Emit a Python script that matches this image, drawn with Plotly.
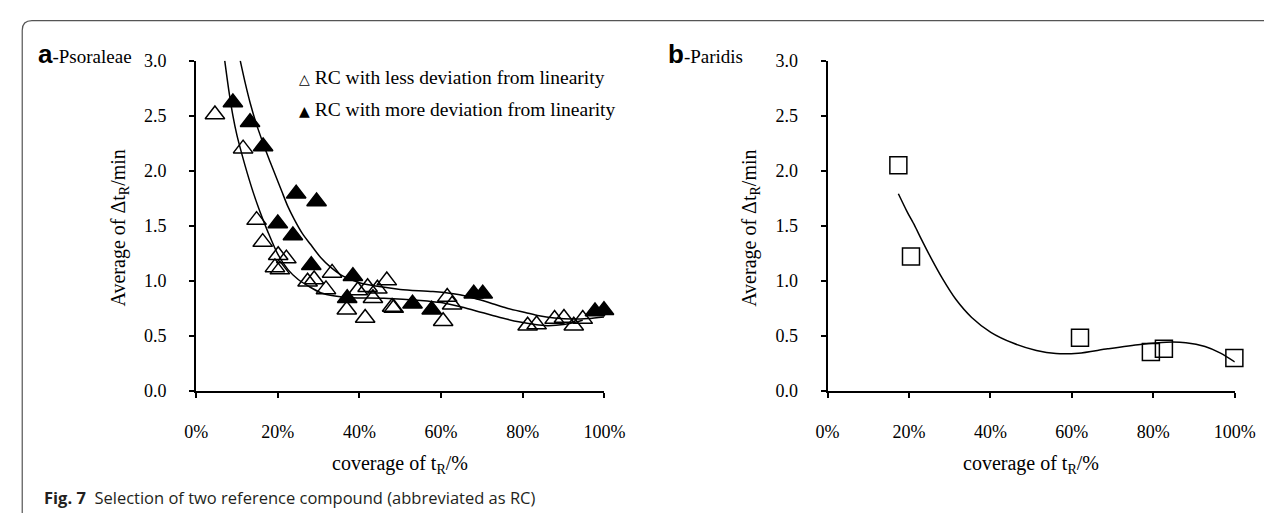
import plotly.graph_objects as go

W, H = 1285, 523

# ---------------- data ----------------
# Panel a - Psoraleae : RC with less deviation from linearity (open triangles)
less_x = [4.6, 11.5, 14.8, 16.3, 20.1, 22.1, 19.3, 20.5, 27.3, 28.9, 33.3, 31.8, 36.9,
          39.6, 42.0, 44.4, 43.3, 41.4, 46.7, 48.0, 48.4, 61.5, 62.7, 60.5,
          81.2, 83.4, 87.8, 90.1, 92.5, 94.7]
less_y = [2.51, 2.20, 1.55, 1.35, 1.23, 1.20, 1.12, 1.10, 0.99, 1.01, 1.07, 0.92, 0.735,
          0.91, 0.94, 0.925, 0.84, 0.66, 1.00, 0.76, 0.75, 0.85, 0.78, 0.63,
          0.59, 0.60, 0.65, 0.66, 0.59, 0.65]

# RC with more deviation from linearity (filled triangles)
more_x = [9.0, 13.2, 16.4, 24.5, 29.5, 20.0, 23.7, 28.2, 38.4, 37.0, 53.0, 57.7,
          68.0, 70.2, 97.7, 99.9]
more_y = [2.62, 2.44, 2.22, 1.79, 1.72, 1.52, 1.41, 1.14, 1.04, 0.84, 0.79, 0.735,
          0.88, 0.88, 0.72, 0.73]

# trendlines
less_fit_x = [7.0, 8.0, 9.0, 10.0, 11.2, 12.5, 14.0, 15.5, 17.5, 20.0, 22.5, 25.0, 27.5,
              30.5, 34.0, 38.0, 46.0, 55.0, 60.0, 65.0, 70.0, 75.0, 79.0, 83.0, 86.0,
              90.0, 94.7]
less_fit_y = [3.0, 2.73, 2.50, 2.32, 2.15, 1.98, 1.80, 1.64, 1.45, 1.24, 1.10, 1.01, 0.95,
              0.89, 0.86, 0.845, 0.84, 0.82, 0.80, 0.76, 0.71, 0.66, 0.625, 0.60, 0.59,
              0.60, 0.64]
more_fit_x = [10.8, 12.0, 13.2, 14.7, 16.2, 17.8, 19.3, 21.0, 22.4, 24.0, 26.0, 28.0,
              30.5, 33.0, 36.0, 40.0, 44.0, 50.0, 58.0, 63.0, 66.0, 69.0, 72.6, 76.0,
              80.6, 84.0, 87.8, 92.0, 96.0, 99.9]
more_fit_y = [3.0, 2.80, 2.62, 2.43, 2.27, 2.11, 1.97, 1.81, 1.68, 1.56, 1.43, 1.33,
              1.21, 1.12, 1.04, 0.98, 0.95, 0.92, 0.90, 0.88, 0.86, 0.83, 0.79, 0.75,
              0.71, 0.68, 0.66, 0.65, 0.655, 0.67]

# Panel b - Paridis (open squares)
par_x = [17.4, 20.5, 62.0, 79.4, 82.6, 99.9]
par_y = [2.05, 1.22, 0.48, 0.35, 0.38, 0.295]
par_fit_x = [17.4, 19.5, 21.4, 23.0, 25.5, 28.2, 31.5, 35.4, 40.1, 45.7, 51.3, 56.1,
             61.6, 68.8, 76.8, 83.2, 88.0, 92.7, 96.5, 100.0]
par_fit_y = [1.79, 1.63, 1.50, 1.38, 1.20, 1.02, 0.83, 0.665, 0.53, 0.43, 0.365, 0.337,
             0.34, 0.38, 0.42, 0.44, 0.435, 0.40, 0.34, 0.26]

x_ticks = [0, 20, 40, 60, 80, 100]
x_tick_text = ["0%", "20%", "40%", "60%", "80%", "100%"]
y_ticks = [0, 0.5, 1.0, 1.5, 2.0, 2.5, 3.0]

SERIF = "Liberation Serif"
TICK = 18
TITLE = 20

# ---------------- figure ----------------
fig = go.Figure()

line_style = dict(color="black", width=1.5, shape="spline", smoothing=0.8)

fig.add_trace(go.Scatter(x=less_fit_x, y=less_fit_y, mode="lines", line=line_style,
                         xaxis="x", yaxis="y", showlegend=False, hoverinfo="skip"))
fig.add_trace(go.Scatter(x=more_fit_x, y=more_fit_y, mode="lines", line=line_style,
                         xaxis="x", yaxis="y", showlegend=False, hoverinfo="skip"))
fig.add_trace(go.Scatter(x=less_x, y=less_y, mode="markers", xaxis="x", yaxis="y",
                         name="RC with less deviation from linearity", cliponaxis=False,
                         marker=dict(symbol="triangle-up", size=17, color="rgba(0,0,0,0)",
                                     line=dict(color="black", width=1.5)),
                         showlegend=False))
fig.add_trace(go.Scatter(x=more_x, y=more_y, mode="markers", xaxis="x", yaxis="y",
                         name="RC with more deviation from linearity", cliponaxis=False,
                         marker=dict(symbol="triangle-up", size=17, color="black",
                                     line=dict(color="black", width=1.5)),
                         showlegend=False))

fig.add_trace(go.Scatter(x=par_fit_x, y=par_fit_y, mode="lines", line=line_style,
                         xaxis="x2", yaxis="y2", showlegend=False, hoverinfo="skip"))
fig.add_trace(go.Scatter(x=par_x, y=par_y, mode="markers", xaxis="x2", yaxis="y2",
                         cliponaxis=False, showlegend=False,
                         marker=dict(symbol="square", size=17, color="rgba(0,0,0,0)",
                                     line=dict(color="black", width=1.5))))


def px_x(p):
    return p / W


def px_y(p):
    return 1 - p / H


y_dom = [px_y(395.7), px_y(52.7)]

common_x = dict(range=[0, 100], tickmode="array", tickvals=x_ticks, ticktext=x_tick_text,
                showline=True, linecolor="black", linewidth=2, ticks="outside", ticklen=5,
                tickwidth=2, tickcolor="black", showgrid=False, zeroline=False,
                ticklabelstandoff=19, tickfont=dict(family=SERIF, size=TICK, color="black"))
common_y = dict(range=[0, 3], tickvals=y_ticks, tickformat=".1f", showline=True,
                linecolor="black", linewidth=2, ticks="outside", ticklen=5, tickwidth=2,
                tickcolor="black", showgrid=False, zeroline=False,
                ticklabelstandoff=19, tickfont=dict(family=SERIF, size=TICK, color="black"))

fig.update_layout(
    width=W, height=H,
    margin=dict(l=0, r=0, t=0, b=0),
    paper_bgcolor="white", plot_bgcolor="white",
    showlegend=False,
    xaxis=dict(domain=[px_x(189), px_x(608)], anchor="y", **common_x),
    yaxis=dict(domain=y_dom, anchor="x", **common_y),
    xaxis2=dict(domain=[px_x(837), px_x(1255)], anchor="y2", **common_x),
    yaxis2=dict(domain=y_dom, anchor="x2", **common_y),
)

annotations = []
ytitle = "Average of Δt<sub>R</sub>/min"
xtitle = "coverage of t<sub>R</sub>/%"
for xc in (110, 758):
    annotations.append(dict(x=px_x(xc), y=px_y(227), xref="paper", yref="paper",
                            text=ytitle, textangle=-90, showarrow=False,
                            xanchor="center", yanchor="middle",
                            font=dict(family=SERIF, size=TITLE, color="black")))
for xc in (398.5, 1046):
    annotations.append(dict(x=px_x(xc), y=px_y(473), xref="paper", yref="paper",
                            text=xtitle, showarrow=False, xanchor="center", yanchor="middle",
                            font=dict(family=SERIF, size=TITLE, color="black")))

# panel labels
for xl, name, label in ((25, "a", "Psoraleae"), (671, "b", "Paridis")):
    annotations.append(dict(
        x=px_x(xl), y=px_y(46), xref="paper", yref="paper", showarrow=False,
        xanchor="left", yanchor="middle",
        text=("<span style='font-family:Liberation Sans;font-size:26px'><b>" + name +
              "</b></span>-" + label),
        font=dict(family=SERIF, size=19, color="black")))

# legend (text lines inside panel a)
annotations.append(dict(
    x=px_x(292), y=px_y(70), xref="paper", yref="paper", showarrow=False,
    xanchor="left", yanchor="middle",
    text="<span style='font-family:DejaVu Sans;font-size:14px'>△</span> RC with less deviation from linearity",
    font=dict(family=SERIF, size=19.5, color="black")))
annotations.append(dict(
    x=px_x(292), y=px_y(103), xref="paper", yref="paper", showarrow=False,
    xanchor="left", yanchor="middle",
    text="<span style='font-family:DejaVu Sans;font-size:14px'>▲</span> RC with more deviation from linearity",
    font=dict(family=SERIF, size=19.5, color="black")))

# caption
annotations.append(dict(
    x=px_x(31), y=px_y(507), xref="paper", yref="paper", showarrow=False,
    xanchor="left", yanchor="middle",
    text="<b>Fig. 7</b>\u00a0 Selection of two reference compound (abbreviated as RC)",
    font=dict(family="Open Sans", size=16.5, color="#231f20")))

fig.update_layout(annotations=annotations)

# rounded frame (top-left corner only, as in the reference)
x0, yt = px_x(10.5), px_y(11)
rx, ry = 10 / W, 10 / H
path = (f"M {x0},{px_y(523)} L {x0},{yt - ry} Q {x0},{yt} {x0 + rx},{yt} L 1,{yt}")
fig.add_shape(type="path", path=path, xref="paper", yref="paper",
              line=dict(color="#555555", width=1.2))

fig.write_html("out.html",
               post_script="document.body.style.margin='0';document.body.style.overflow='hidden';")
